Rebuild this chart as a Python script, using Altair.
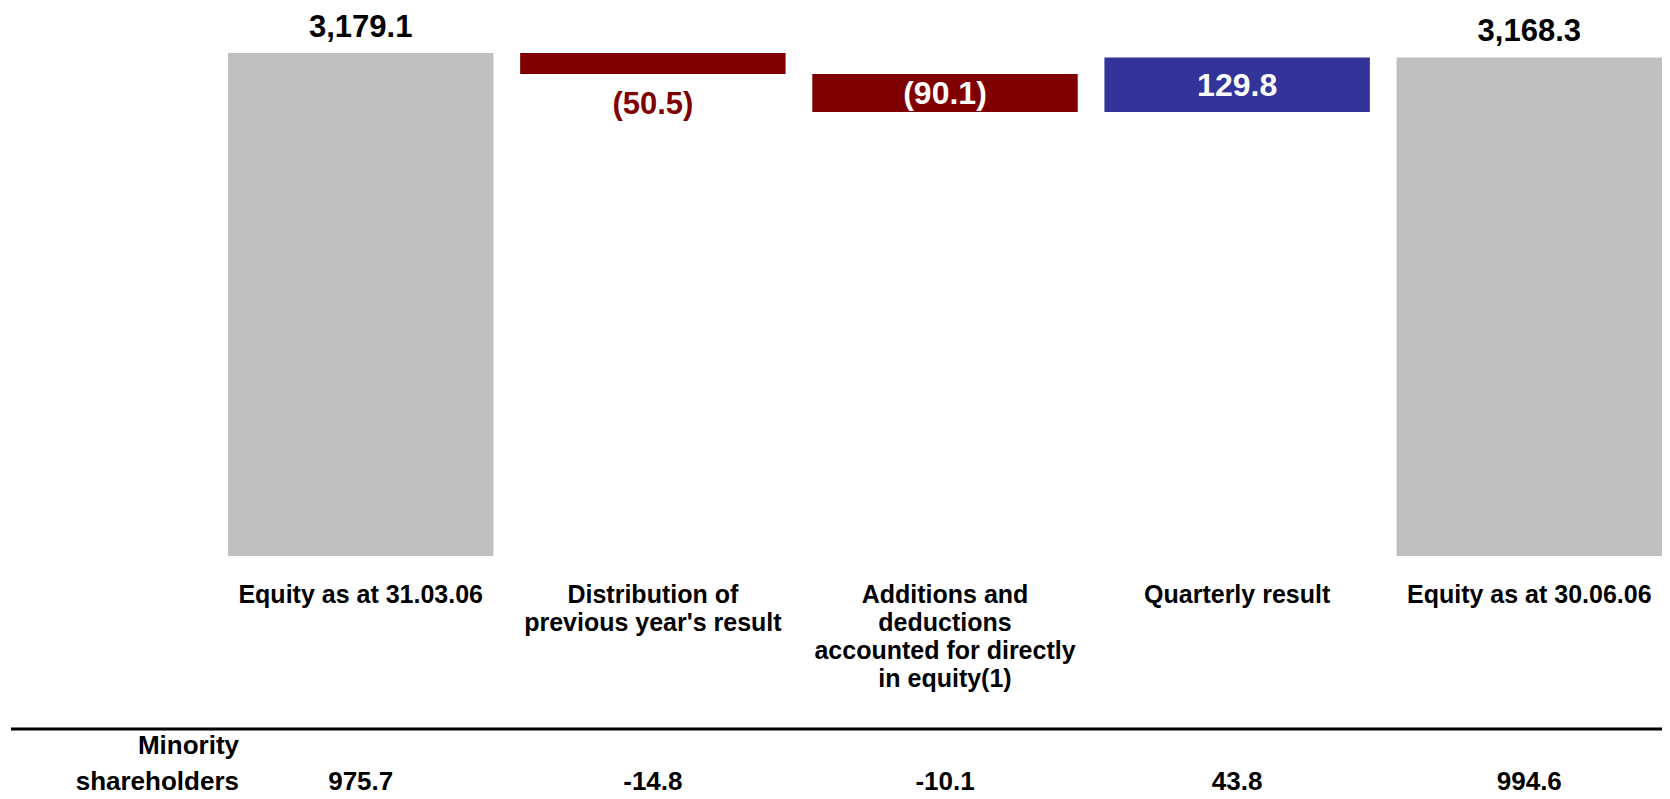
import altair as alt
import pandas as pd

# ---- data ----
categories = [
    "Equity as at 31.03.06",
    "Distribution of|previous year's result",
    "Additions and|deductions|accounted for directly|in equity(1)",
    "Quarterly result",
    "Equity as at 30.06.06",
]
values = [3179.1, -50.5, -90.1, 129.8, 3168.3]
kinds = ["total", "delta", "delta", "delta", "total"]
minority = [975.7, -14.8, -10.1, 43.8, 994.6]
row_header = ["Minority", "shareholders"]
axis_floor = 1981  # broken value axis: bars start here
axis_top = 3286

# ---- build waterfall table ----
rows = []
running = None
for cat, v, k, m in zip(categories, values, kinds, minority):
    if k == "total":
        start, end = axis_floor, v
        running = v
        label = f"{v:,.1f}"
        colour = "total"
        place = "above"
    else:
        start = running
        end = running + v
        running = end
        label = f"({abs(v):,.1f})" if v < 0 else f"{v:,.1f}"
        colour = "neg" if v < 0 else "pos"
        place = "below" if abs(v) < 60 else "inside"
    rows.append(dict(cat=cat, y=max(start, end), y2=min(start, end),
                     mid=(start + end) / 2, label=label, colour=colour,
                     place=place, minority=f"{m:.1f}"))
df = pd.DataFrame(rows)

FONT = "Liberation Sans"
x_enc = alt.X("cat:N", sort=categories,
              scale=alt.Scale(paddingInner=0.0914, paddingOuter=0),
              axis=alt.Axis(title=None, domain=False, ticks=False, tickSize=0,
                            labelAngle=0, labelFont=FONT, labelFontSize=25,
                            labelFontWeight="bold", labelColor="#000000",
                            labelPadding=26, labelLineHeight=28, labelLimit=0,
                            labelExpr="split(datum.label, '|')"))
y_scale = alt.Scale(domain=[axis_floor, axis_top], zero=False, nice=False)

base = alt.Chart(df)

bars = base.mark_bar().encode(
    x=x_enc,
    y=alt.Y("y:Q", scale=y_scale, axis=None),
    y2="y2:Q",
    color=alt.Color("colour:N", legend=None,
                    scale=alt.Scale(domain=["total", "neg", "pos"],
                                    range=["#C0C0C0", "#800000", "#333399"])),
)

above = base.transform_filter("datum.place == 'above'").mark_text(
    font=FONT, fontSize=31, fontWeight="bold", color="#000000",
    baseline="alphabetic", dy=-16
).encode(x=alt.X("cat:N", sort=categories), y="y:Q", text="label:N")

below = base.transform_filter("datum.place == 'below'").mark_text(
    font=FONT, fontSize=31, fontWeight="bold", color="#800000",
    baseline="alphabetic", dy=40
).encode(x=alt.X("cat:N", sort=categories), y="y2:Q", text="label:N")

inside = base.transform_filter("datum.place == 'inside'").mark_text(
    font=FONT, fontSize=32, fontWeight="bold", color="#FFFFFF",
    baseline="middle", dy=1
).encode(x=alt.X("cat:N", sort=categories), y="mid:Q", text="label:N")

rule = base.mark_rule(color="#000000", strokeWidth=3).encode(
    x=alt.value(-217), x2=alt.value(1440), y=alt.value(721)
).transform_filter(f"datum.cat == '{categories[0]}'")

minority_vals = base.mark_text(
    font=FONT, fontSize=26, fontWeight="bold", color="#000000",
    baseline="alphabetic"
).encode(x=alt.X("cat:N", sort=categories), y=alt.value(782), text="minority:N")

hdr = pd.DataFrame({"t": row_header, "i": [0, 1]})
header1 = alt.Chart(hdr).transform_filter("datum.i == 0").mark_text(
    font=FONT, fontSize=26, fontWeight="bold", color="#000000",
    align="right", baseline="alphabetic"
).encode(x=alt.value(11), y=alt.value(746), text="t:N")
header2 = alt.Chart(hdr).transform_filter("datum.i == 1").mark_text(
    font=FONT, fontSize=26, fontWeight="bold", color="#000000",
    align="right", baseline="alphabetic"
).encode(x=alt.value(11), y=alt.value(782), text="t:N")

chart = alt.layer(bars, above, below, inside, rule, minority_vals, header1, header2).properties(
    width=1434, height=548,
    background="#FFFFFF",
    autosize=alt.AutoSizeParams(type="none"),
    padding={"left": 220, "right": 0, "top": 0, "bottom": 240},
).configure_view(stroke=None, strokeWidth=0)

chart.save("out.html", embed_options={"renderer": "svg", "actions": False})
